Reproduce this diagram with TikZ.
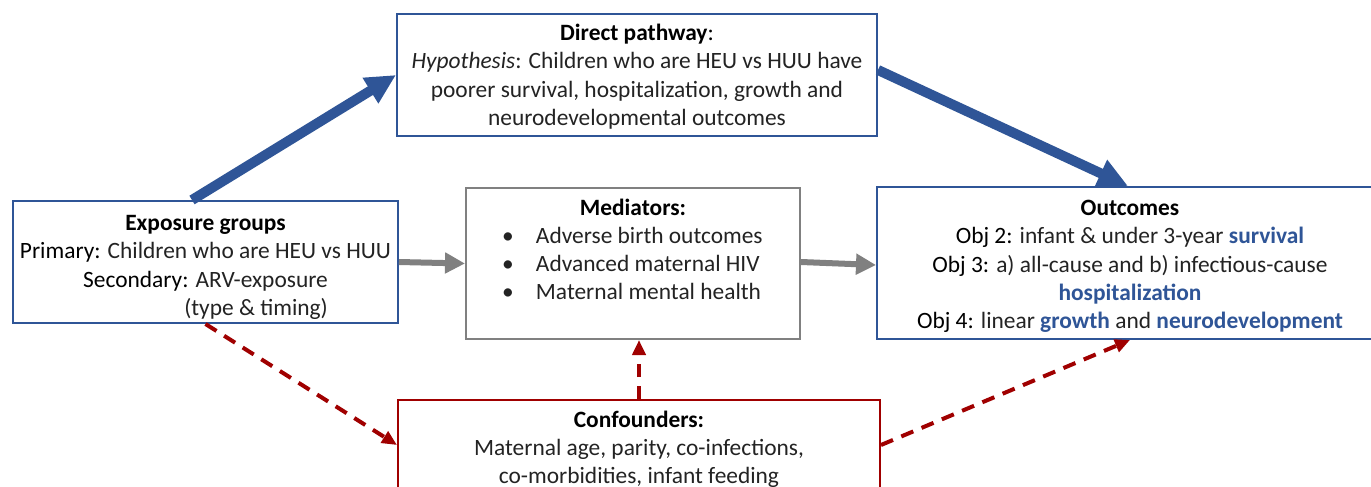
\documentclass[tikz,border=0pt]{standalone}
\usepackage{fontspec}
\setmainfont{Carlito}
\usetikzlibrary{arrows.meta,calc}
\definecolor{dblue}{RGB}{47,85,151}
\definecolor{dred}{RGB}{160,0,0}
\definecolor{mgray}{RGB}{128,128,128}
\definecolor{txtc}{RGB}{35,35,35}
\newcommand\bhl[1]{{\bfseries\color{dblue}#1}}
\newcommand\lbl[1]{{\color{black}#1}}
\begin{document}
\begin{tikzpicture}[x=1pt,y=-1pt,
  every node/.style={font=\fontsize{23.4}{28.3}\selectfont, text=txtc},
  boxbase/.style={line width=2pt, inner sep=0pt, fill=white},
  bluebox/.style={boxbase, draw=dblue},
  graybox/.style={boxbase, draw=mgray},
  redbox/.style={boxbase, draw=dred},
  txt/.style={align=center, inner sep=0pt, anchor=north},
  bluearrow/.style={draw=dblue, line width=10pt, -{Triangle[length=30pt,width=28pt]}},
  grayarrow/.style={draw=mgray, line width=6pt, -{Triangle[length=20pt,width=20pt]}},
  redarrow/.style={draw=dred, line width=4pt, dash pattern=on 13pt off 9pt, -{Triangle[length=15pt,width=13pt]}}
]
\useasboundingbox (0,0) rectangle (1371,487);
\clip (0,0) rectangle (1371,487);
\fill[white] (0,0) rectangle (1371,487);

% boxes
\node[bluebox, minimum width=385pt, minimum height=122pt] (expo) at (205.5,262) {};
\node[bluebox, minimum width=480pt, minimum height=122pt] (direct) at (637,75) {};
\node[graybox, minimum width=334pt, minimum height=151pt] (med) at (633,263.5) {};
\node[bluebox, minimum width=508pt, minimum height=152pt] (outc) at (1131,263) {};
\node[redbox, minimum width=482pt, minimum height=150pt] (conf) at (639,475) {};

% texts
\node[txt] (expotxt) at ([yshift=-10.5pt]expo.north)
  {\strut\lbl{\textbf{Exposure groups}}\\
   \lbl{Primary:} Children who are HEU vs HUU\\
   \lbl{Secondary:} ARV-exposure\\
   \phantom{Secondary: ARV-exposure}\llap{(type \& timing)}};

\node[txt] (directtxt) at ([yshift=-7.5pt]direct.north)
  {\strut\lbl{\textbf{Direct pathway}:}\\
   \textit{Hypothesis}: Children who are HEU vs HUU have\\
   poorer survival, hospitalization, growth and\\
   neurodevelopmental outcomes};

\node[txt] (medtxt) at ([yshift=-8pt]med.north)
  {\strut\lbl{\textbf{Mediators:}}\\
   \makebox[262pt][l]{\makebox[34pt][l]{•}Adverse birth outcomes}\\
   \makebox[262pt][l]{\makebox[34pt][l]{•}Advanced maternal HIV}\\
   \makebox[262pt][l]{\makebox[34pt][l]{•}Maternal mental health}};

\node[txt] (outctxt) at ([yshift=-9.5pt,xshift=-1pt]outc.north)
  {\strut\lbl{\textbf{Outcomes}}\\
   \lbl{Obj 2:} infant \& under 3-year \bhl{survival}\\
   \lbl{Obj 3:} a) all-cause and b) infectious-cause\\
   \bhl{hospitalization}\\
   \lbl{Obj 4:} linear \bhl{growth} and \bhl{neurodevelopment}};

\node[txt] (conftxt) at ([yshift=-8pt]conf.north)
  {\strut\lbl{\textbf{Confounders:}}\\
   Maternal age, parity, co-infections,\\
   co-morbidities, infant feeding};

% connectors
\draw[bluearrow] ([xshift=-13.5pt]expo.north) -- (direct.west);
\draw[bluearrow] ([yshift=5pt]direct.east) -- ([xshift=-3pt]outc.north);
\draw[grayarrow] (expo.east) -- (med.west);
\draw[grayarrow] ([yshift=1.5pt]med.east) -- ([yshift=-2pt]outc.west);
\draw[redarrow] (expo.south) -- ([yshift=30pt]conf.west);
\draw[redarrow] ([yshift=30pt]conf.east) -- ([xshift=-1pt]outc.south);
\draw[redarrow] (conf.north) -- (conf.north |- med.south);
\end{tikzpicture}
\end{document}
